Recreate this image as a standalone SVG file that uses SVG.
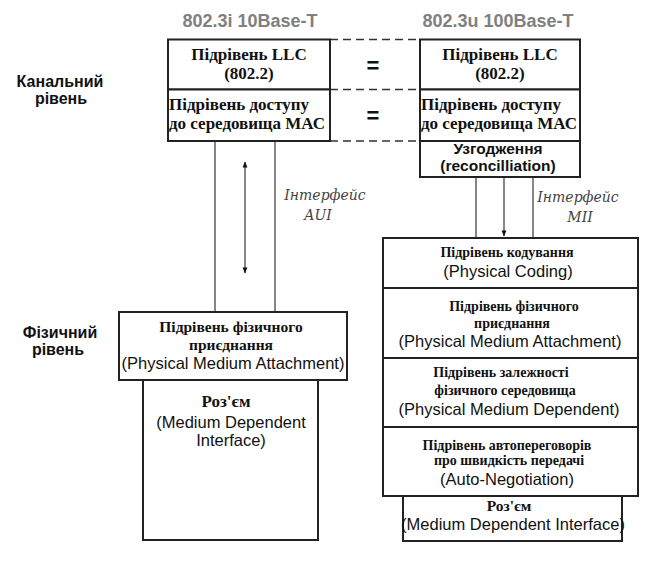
<svg xmlns="http://www.w3.org/2000/svg" width="670" height="572" viewBox="0 0 670 572">
<defs>
<style>
.box{fill:#fff;stroke:#222;stroke-width:2}
.ln{stroke:#444;stroke-width:1.3;fill:none}
.dash{stroke:#333;stroke-width:1.5;stroke-dasharray:8 5;fill:none}
.title{font-family:"Liberation Sans",Arial,sans-serif;font-weight:bold;font-size:18px;fill:#808080;text-anchor:middle}
.lvl{font-family:"Liberation Sans",Arial,sans-serif;font-weight:bold;font-size:16px;fill:#111;text-anchor:middle}
.sb{font-family:"Liberation Serif","Times New Roman",serif;font-weight:bold;font-size:17px;fill:#111}
.sbm{font-family:"Liberation Serif","Times New Roman",serif;font-weight:bold;font-size:15.5px;fill:#111;text-anchor:middle}
.sbs{font-family:"Liberation Serif","Times New Roman",serif;font-weight:bold;font-size:14px;fill:#111;text-anchor:middle}
.ss{font-family:"Liberation Sans",Arial,sans-serif;font-size:16.5px;fill:#111;text-anchor:middle}
.ssb{font-family:"Liberation Sans",Arial,sans-serif;font-weight:bold;font-size:15.5px;fill:#111;text-anchor:middle}
.it{font-family:"DejaVu Serif","Liberation Serif",serif;font-style:italic;font-size:14px;fill:#444;text-anchor:middle}
.eq{font-family:"Liberation Sans",Arial,sans-serif;font-weight:bold;font-size:22px;fill:#111;text-anchor:middle}
.c{text-anchor:middle}
</style>
<marker id="ah" viewBox="0 0 10 10" refX="9" refY="5" markerWidth="8" markerHeight="6" markerUnits="userSpaceOnUse" orient="auto-start-reverse">
<path d="M0,1 L10,5 L0,9 z" fill="#111"/>
</marker>
</defs>
<rect width="670" height="572" fill="#fff"/>

<g id="titles">
<text class="title" x="250" y="27">802.3i 10Base-T</text>
<text class="title" x="498" y="27">802.3u 100Base-T</text>
</g>
<g id="levels">
<text class="lvl" x="60" y="87">Канальний</text>
<text class="lvl" x="61" y="104">рівень</text>
<text class="lvl" x="60" y="338">Фізичний</text>
<text class="lvl" x="58" y="355">рівень</text>
</g>

<g id="connectors">
<line class="dash" x1="330" y1="39.5" x2="420" y2="39.5"/>
<line class="dash" x1="330" y1="89.5" x2="420" y2="89.5"/>
<line class="dash" x1="330" y1="141" x2="420" y2="141"/>
<line class="ln" x1="215" y1="141" x2="215" y2="312"/>
<line class="ln" x1="275" y1="141" x2="275" y2="312"/>
<line class="ln" x1="245" y1="162" x2="245" y2="273" marker-start="url(#ah)" marker-end="url(#ah)"/>
<line class="ln" x1="476" y1="177" x2="476" y2="238"/>
<line class="ln" x1="533" y1="177" x2="533" y2="238"/>
<line class="ln" x1="504" y1="177" x2="504" y2="236" marker-end="url(#ah)"/>
</g>

<g id="eq">
<text class="eq" x="373" y="73">=</text>
<text class="eq" x="373" y="123">=</text>
</g>

<g id="left-llc">
<rect class="box" x="168" y="39.5" width="162" height="50"/>
<text class="sb c" x="249" y="60">Підрівень LLC</text>
<text class="sb c" x="249" y="79">(802.2)</text>
</g>
<g id="left-mac">
<rect class="box" x="168" y="89.5" width="162" height="51.5"/>
<text class="sb" x="169" y="110">Підрівень доступу</text>
<text class="sb" x="169" y="129">до середовища МАС</text>
</g>

<g id="right-llc">
<rect class="box" x="420" y="39.5" width="160" height="50"/>
<text class="sb c" x="500" y="60">Підрівень LLC</text>
<text class="sb c" x="500" y="79">(802.2)</text>
</g>
<g id="right-mac">
<rect class="box" x="420" y="89.5" width="160" height="51.5"/>
<text class="sb" x="421" y="110">Підрівень доступу</text>
<text class="sb" x="421" y="129">до середовища МАС</text>
</g>
<g id="right-rec">
<rect class="box" x="420" y="141" width="160" height="36"/>
<text class="ssb" x="498" y="154">Узгодження</text>
<text class="ssb" x="498" y="171">(reconcilliation)</text>
</g>

<g id="aui-label">
<text class="it" x="325" y="200">Інтерфейс</text>
<text class="it" x="318" y="220">AUI</text>
</g>
<g id="mii-label">
<text class="it" x="578" y="202">Інтерфейс</text>
<text class="it" x="580" y="222">МІІ</text>
</g>

<g id="left-pma">
<rect class="box" x="119" y="312" width="228" height="68"/>
<text class="sbm" x="231" y="332">Підрівень фізичного</text>
<text class="sbm" x="231" y="350">приєднання</text>
<text class="ss" x="233" y="369">(Physical Medium Attachment)</text>
</g>
<g id="left-mdi">
<rect class="box" x="143" y="380" width="175" height="160"/>
<text class="sb c" x="226" y="407">Роз'єм</text>
<text class="ss" x="231" y="428">(Medium Dependent</text>
<text class="ss" x="231" y="446">Interface)</text>
</g>

<g id="right-pc">
<rect class="box" x="383" y="238" width="255" height="50"/>
<text class="sbs" x="507" y="257">Підрівень кодування</text>
<text class="ss" x="508" y="277">(Physical Coding)</text>
</g>
<g id="right-pma">
<rect class="box" x="383" y="288" width="255" height="70"/>
<text class="sbs" x="514" y="311">Підрівень фізичного</text>
<text class="sbs" x="512" y="328">приєднання</text>
<text class="ss" x="510" y="347">(Physical Medium Attachment)</text>
</g>
<g id="right-pmd">
<rect class="box" x="383" y="358" width="255" height="69"/>
<text class="sbs" x="501" y="377">Підрівень залежності</text>
<text class="sbs" x="505" y="395">фізичного середовища</text>
<text class="ss" x="509" y="415">(Physical Medium Dependent)</text>
</g>
<g id="right-an">
<rect class="box" x="383" y="427" width="255" height="69"/>
<text class="sbs" x="507" y="450">Підрівень автопереговорів</text>
<text class="sbs" x="509" y="465">про швидкість передачі</text>
<text class="ss" x="507" y="485">(Auto-Negotiation)</text>
</g>
<g id="right-mdi">
<rect class="box" x="403" y="496" width="219" height="45"/>
<text class="sbm" x="509" y="511">Роз'єм</text>
<text class="ss" x="513" y="530">(Medium Dependent Interface)</text>
</g>
</svg>
